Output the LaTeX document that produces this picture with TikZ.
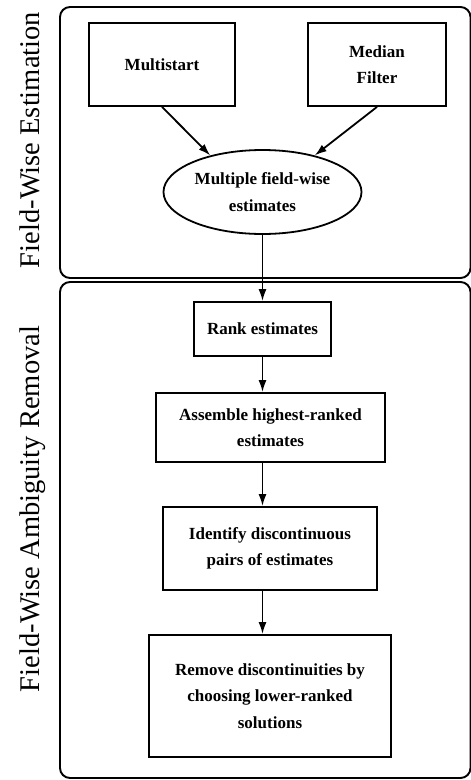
\documentclass[tikz,border=0pt]{standalone}
\usepackage{fontspec}
\setmainfont{Liberation Serif}
\usepackage{tikz}
\usetikzlibrary{arrows.meta,shapes.geometric}

\tikzset{
	panel/.style={line width=1.9pt, rounded corners=10pt},
	stepbox/.style={draw, line width=1.8pt, rectangle, align=center, inner sep=0pt,
		font=\bfseries\fontsize{17}{26.5}\selectfont},
	flow/.style={line width=1.8pt, -{Latex[length=12pt,width=8pt]}},
	sidelabel/.style={rotate=90, anchor=base, font=\fontsize{28.5}{30}\selectfont}
}

\begin{document}
\begin{tikzpicture}[x=1pt, y=-1pt]
			\useasboundingbox (0,0) rectangle (471,780);
			\draw[panel] (60,7) rectangle (470.5,278);
			\draw[panel] (60,282) rectangle (470.5,778);
			\node[sidelabel] (estlabel) at (39,140) {Field-Wise Estimation};
			\node[sidelabel] (remlabel) at (39,509) {Field-Wise Ambiguity Removal};
			\node[stepbox, minimum width=146pt, minimum height=83pt] (multi) at (162,64.5) {Multistart};
			\node[stepbox, minimum width=138pt, minimum height=83pt] (median) at (377,64.5) {Median\\Filter};
			\node[stepbox, ellipse, minimum width=198pt, minimum height=84pt] (est) at (262.5,192) {Multiple field-wise\\estimates};
			\node[stepbox, minimum width=137pt, minimum height=54pt] (rank) at (262.5,329) {Rank estimates};
			\node[stepbox, minimum width=229pt, minimum height=69pt] (assemble) at (270.5,427.5) {Assemble highest-ranked\\estimates};
			\node[stepbox, minimum width=214pt, minimum height=83pt] (identify) at (270,548.5) {Identify discontinuous\\pairs of estimates};
			\node[stepbox, minimum width=242pt, minimum height=122pt] (remove) at (270,696) {Remove discontinuities by\\choosing lower-ranked\\solutions};
			\draw[flow] (multi.south) -- (est.145);
			\draw[flow] (median.south) -- (est.35);
			\draw[flow] (est) -- (rank);
			\draw[flow] (rank.south) -- (rank.south |- assemble.north);
			\draw[flow] (assemble.south -| rank) -- (identify.north -| rank);
			\draw[flow] (identify.south -| rank) -- (remove.north -| rank);
		\end{tikzpicture}
\end{document}
